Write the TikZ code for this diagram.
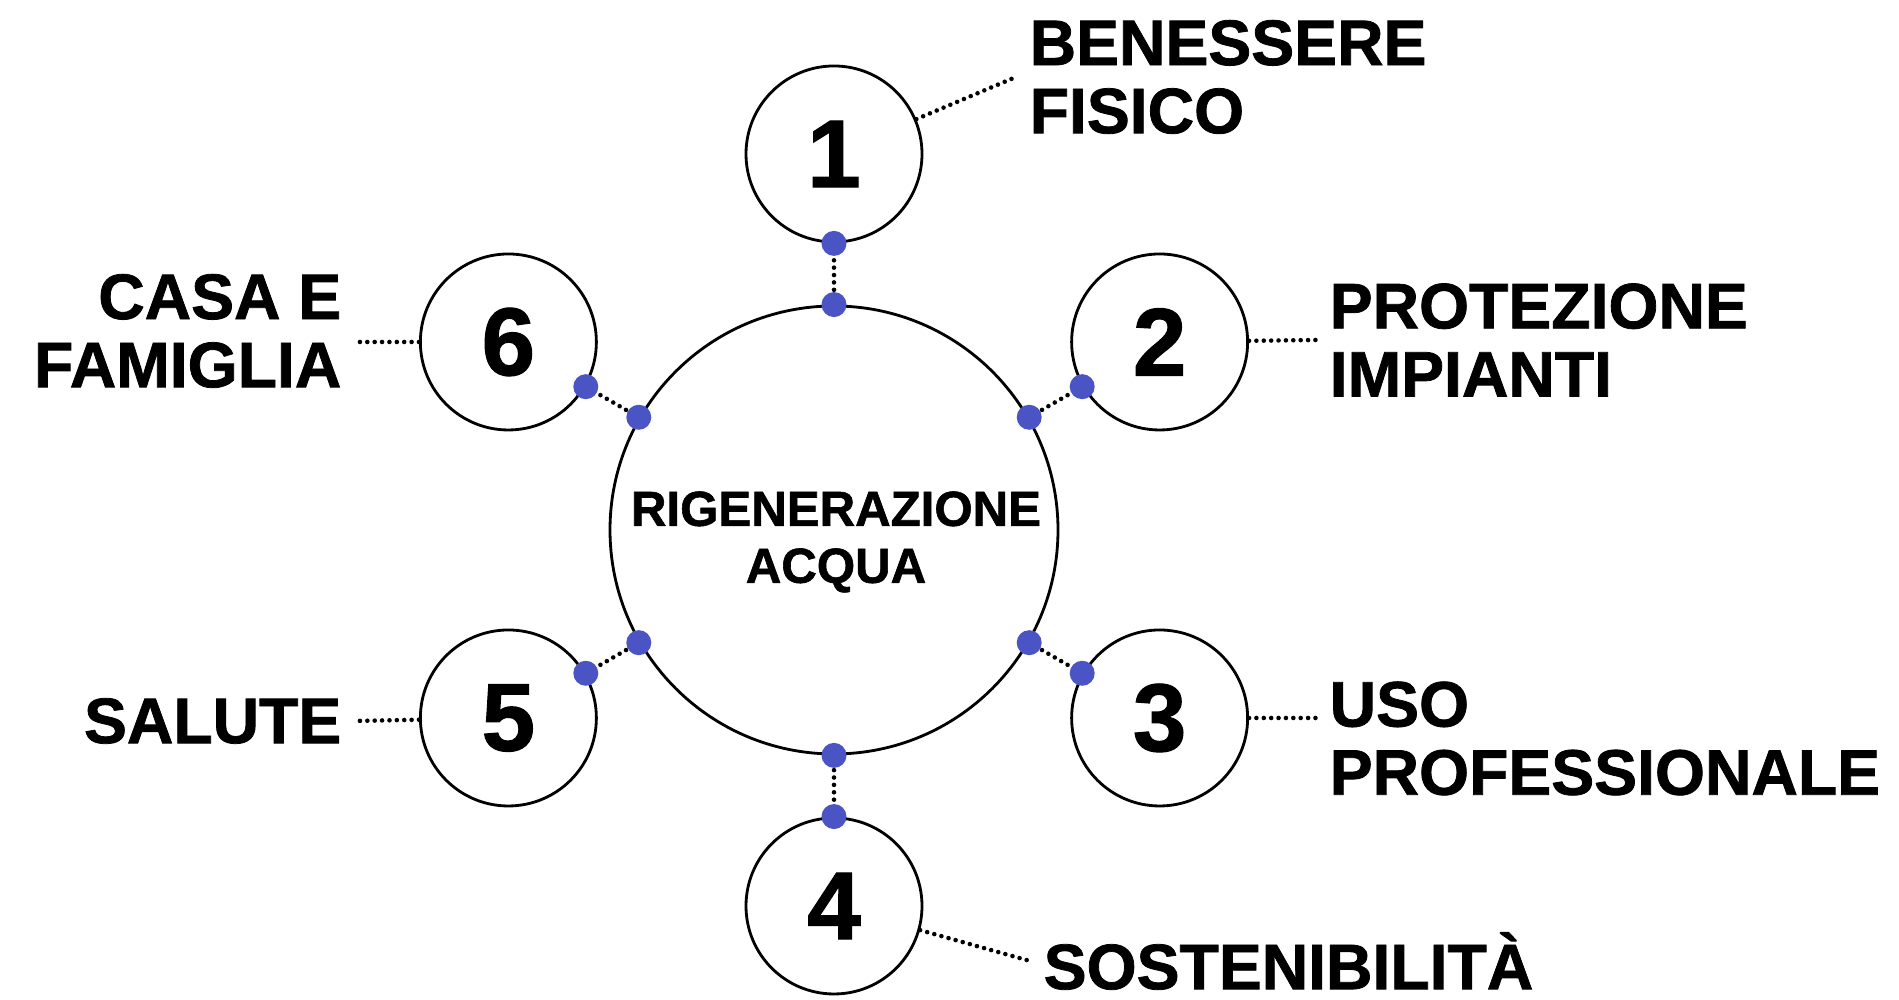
\documentclass[tikz,border=0pt]{standalone}
\usepackage{fontspec}
\setmainfont{Liberation Sans}[BoldFeatures={FakeBold=1.2}]
\usetikzlibrary{calc}
\definecolor{dotblue}{RGB}{74,84,196}
\tikzset{
	ring/.style={circle,draw,line width=0.8pt,inner sep=0pt},
	hub/.style={ring,minimum size=4.48cm},
	sat/.style={ring,minimum size=1.76cm,font=\fontsize{27.4}{30}\selectfont\bfseries},
	tag/.style={inner xsep=0.13cm,inner ysep=0pt,font=\fontsize{18.3}{19.4}\selectfont\bfseries},
	dots/.style={line width=1.3pt,line cap=round,dash pattern=on 0pt off 2.1pt},
	knob/.style={fill=dotblue}
}

\begin{document}
\begin{tikzpicture}
	\useasboundingbox (0,0) rectangle (18.99,10);
	\node[hub] (c) at (8.34,4.70) {};
	\node[font=\fontsize{14}{16.2}\selectfont\bfseries,align=center] (ct) at (8.36,4.58) {RIGENERAZIONE\\ACQUA};
	\foreach \i/\a in {1/90,2/30,3/-30,4/-90,5/-150,6/150}
		\node[sat] (n\i) at ($(c)+(\a:3.76)$) {\i};
	\node[tag,anchor=west,align=left] (l1) at (10.16,9.23) {BENESSERE\\FISICO};
	\node[tag,anchor=west,align=left] (l2) at (13.16,6.60) {PROTEZIONE\\IMPIANTI};
	\node[tag,anchor=west,align=left] (l3) at (13.16,2.615) {USO\\PROFESSIONALE};
	\node[tag,anchor=west] (l4) at (10.30,0.39) {SOSTENIBILITÀ};
	\node[tag,anchor=east] (l5) at (3.55,2.79) {SALUTE};
	\node[tag,anchor=east,align=right] (l6) at (3.55,6.69) {CASA E\\FAMIGLIA};
	\draw[dots] (n1) -- (l1.west);
	\draw[dots] (n2) -- (l2.west);
	\draw[dots] (n3) -- (n3 -| l3.west);
	\draw[dots] (n4) -- (l4.west);
	\draw[dots] (n5) -- (l5.east);
	\draw[dots] (n6) -- (n6 -| l6.east);
	\foreach \i/\a/\b in {1/90/270,2/30/210,3/-30/150,4/-90/90,5/-150/30,6/150/-30}{
		\draw[dots] (c) -- (n\i);
		\fill[knob] (c.\a) circle (0.125);
		\fill[knob] (n\i.\b) circle (0.125);
	}
\end{tikzpicture}
\end{document}
